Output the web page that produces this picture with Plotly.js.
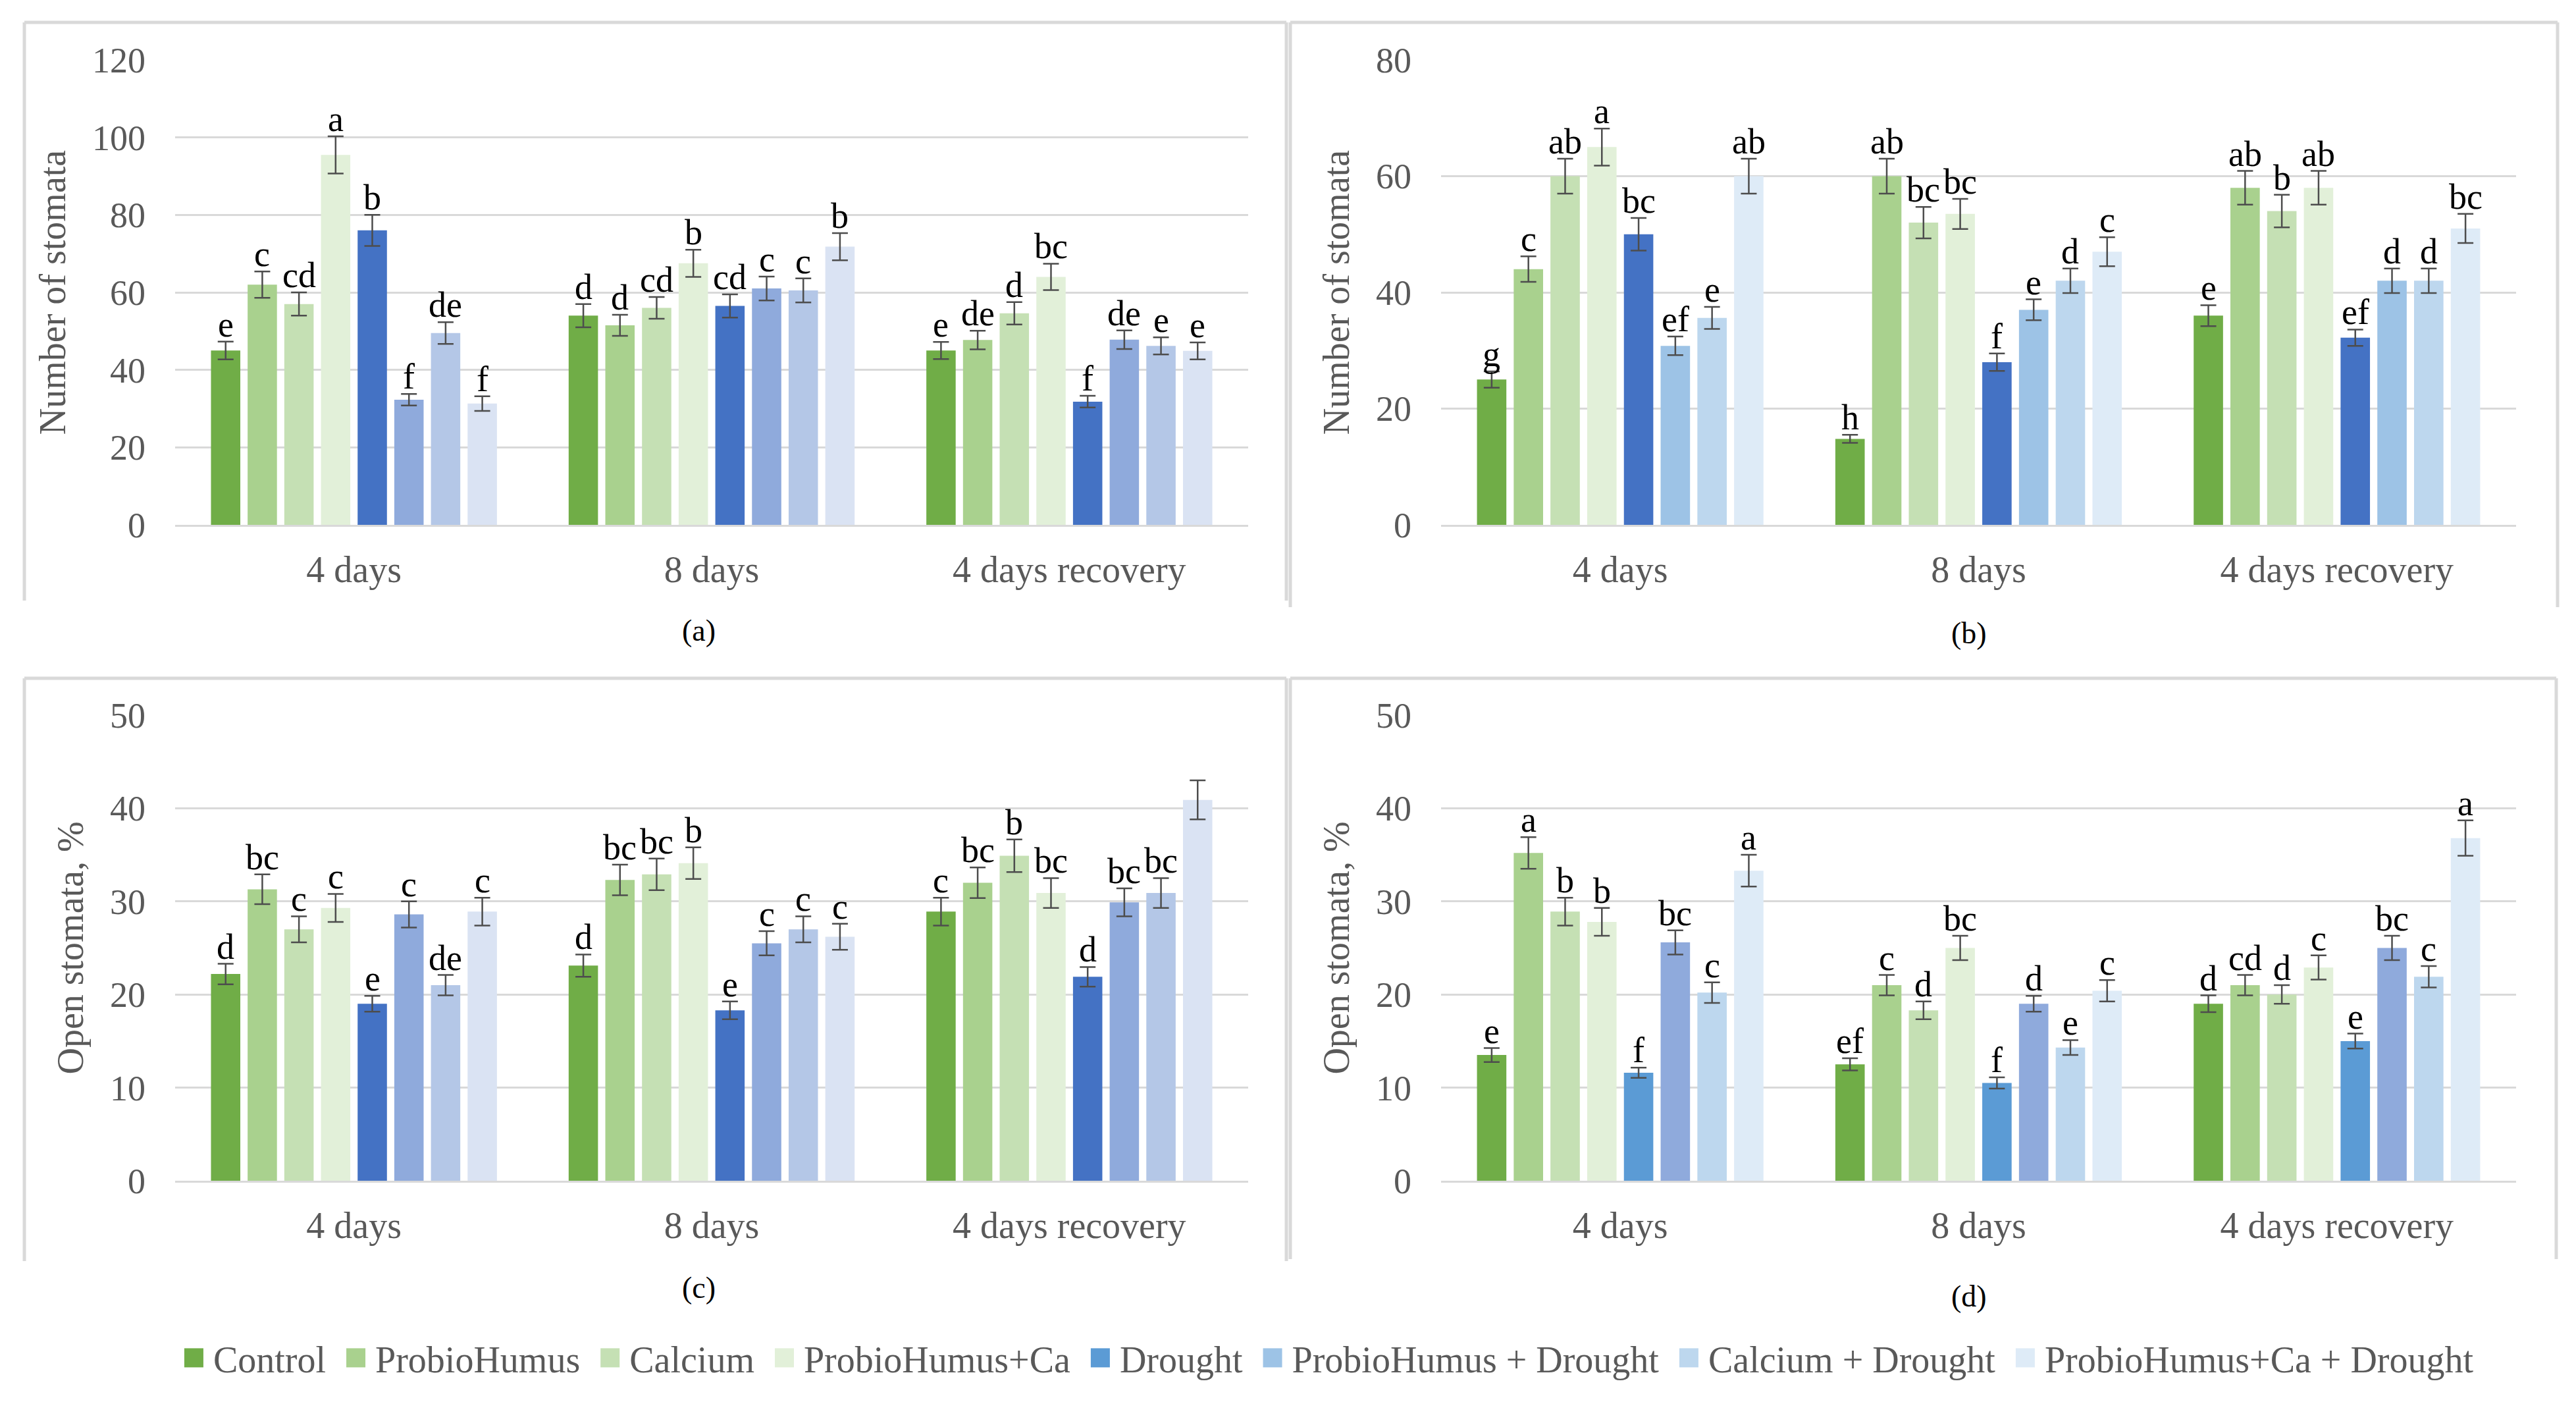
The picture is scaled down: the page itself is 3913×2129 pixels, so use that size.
<!DOCTYPE html>
<html>
<head>
<meta charset="utf-8">
<script src="https://cdn.plot.ly/plotly-3.0.1.min.js"></script>
<style>
html,body{margin:0;padding:0;background:#fff;}
#chart{width:3913px;height:2129px;}
</style>
</head>
<body>
<div id="chart"></div>
<script>
// ---------------- DATA ----------------
const categories = ['4 days', '8 days', '4 days recovery'];
const seriesNames = ['Control', 'ProbioHumus', 'Calcium', 'ProbioHumus+Ca', 'Drought',
  'ProbioHumus + Drought', 'Calcium + Drought', 'ProbioHumus+Ca + Drought'];

// (a) Number of stomata (rows = series, columns = categories)
const valuesA = [
  [45, 54, 45], [62, 51.5, 47.7], [57, 56, 54.6], [95.5, 67.5, 64],
  [76, 56.5, 31.8], [32.3, 61, 47.8], [49.5, 60.5, 46.2], [31.3, 71.8, 44.9]
];
const errorsA = [
  [2.3, 3, 2.2], [3.4, 2.7, 2.4], [3, 2.8, 2.9], [4.8, 3.5, 3.4],
  [4, 3, 1.5], [1.5, 3.1, 2.4], [2.8, 3.1, 2.2], [1.9, 3.5, 2.2]
];
const lettersA = [
  ['e', 'd', 'e'], ['c', 'd', 'de'], ['cd', 'cd', 'd'], ['a', 'b', 'bc'],
  ['b', 'cd', 'f'], ['f', 'c', 'de'], ['de', 'c', 'e'], ['f', 'b', 'e']
];

// (b) Number of stomata
const valuesB = [
  [25, 14.8, 36], [44, 60, 58], [60, 52, 54], [65, 53.5, 58],
  [50, 28, 32.2], [30.8, 37, 42], [35.6, 42, 42], [60, 47, 51]
];
const errorsB = [
  [1.4, 0.7, 1.8], [2.2, 3, 2.9], [3, 2.7, 2.8], [3.2, 2.6, 2.9],
  [2.8, 1.5, 1.4], [1.6, 1.8, 2.1], [1.9, 2.1, 2.1], [3, 2.5, 2.5]
];
const lettersB = [
  ['g', 'h', 'e'], ['c', 'ab', 'ab'], ['ab', 'bc', 'b'], ['a', 'bc', 'ab'],
  ['bc', 'f', 'ef'], ['ef', 'e', 'd'], ['e', 'd', 'd'], ['ab', 'c', 'bc']
];

// (c) Open stomata, %
const valuesC = [
  [22.2, 23.1, 28.9], [31.3, 32.3, 32], [27, 32.9, 34.9], [29.3, 34.1, 30.9],
  [19, 18.3, 21.9], [28.6, 25.5, 29.9], [21, 27, 30.9], [28.9, 26.2, 40.9]
];
const errorsC = [
  [1.1, 1.2, 1.5], [1.6, 1.65, 1.65], [1.4, 1.7, 1.75], [1.5, 1.7, 1.6],
  [0.85, 0.95, 1.05], [1.4, 1.3, 1.5], [1.1, 1.4, 1.6], [1.5, 1.4, 2.1]
];
const lettersC = [
  ['d', 'd', 'c'], ['bc', 'bc', 'bc'], ['c', 'bc', 'b'], ['c', 'b', 'bc'],
  ['e', 'e', 'd'], ['c', 'c', 'bc'], ['de', 'c', 'bc'], ['c', 'c', '']
];

// (d) Open stomata, %
const valuesD = [
  [13.5, 12.5, 19], [35.2, 21, 21], [28.9, 18.3, 20], [27.8, 25, 22.9],
  [11.6, 10.5, 15], [25.6, 19, 25], [20.2, 14.3, 21.9], [33.3, 20.4, 36.8]
];
const errorsD = [
  [0.75, 0.65, 0.9], [1.7, 1.1, 1.1], [1.5, 0.95, 1], [1.5, 1.3, 1.3],
  [0.55, 0.6, 0.8], [1.3, 0.85, 1.3], [1.1, 0.8, 1.15], [1.7, 1.15, 1.9]
];
const lettersD = [
  ['e', 'ef', 'd'], ['a', 'c', 'cd'], ['b', 'd', 'd'], ['b', 'bc', 'c'],
  ['f', 'f', 'e'], ['bc', 'd', 'bc'], ['c', 'e', 'c'], ['a', 'c', 'a']
];

const panelTags = ['(a)', '(b)', '(c)', '(d)'];
const yTitles = ['Number of stomata', 'Number of stomata', 'Open stomata, %', 'Open stomata, %'];
const yMax = [120, 80, 50, 50];
const yStep = [20, 20, 10, 10];

// ---------------- STYLE ----------------
const greens = ['#70AD47', '#A9D18E', '#C5E0B4', '#E2F0D9'];
const colorsA = greens.concat(['#4472C4', '#8FAADC', '#B4C7E7', '#DAE3F3']);
const colorsB = greens.concat(['#4472C4', '#9DC3E6', '#BDD7EE', '#DEEBF7']);
const colorsC = colorsA;
const colorsD = greens.concat(['#5B9BD5', '#8FAADC', '#BDD7EE', '#DEEBF7']);
// which panel supplies each legend entry (legend colours match these)
const legendPanel = [0, 0, 0, 0, 3, 1, 1, 1];

const FONT = '"Liberation Serif", "Times New Roman", serif';
const GREY = '#595959';
const LINE = '#D9D9D9';
const W = 3913, H = 2129;
const BARGAP = 0.18, BARGROUPGAP = 0.2;

const panels = [
  {v: valuesA, e: errorsA, l: lettersA, c: colorsA},
  {v: valuesB, e: errorsB, l: lettersB, c: colorsB},
  {v: valuesC, e: errorsC, l: lettersC, c: colorsC},
  {v: valuesD, e: errorsD, l: lettersD, c: colorsD}
];

// pixel layout of the plot areas
const plotX = [[266, 1896], [2189, 3822], [266, 1896], [2189, 3822]];
const plotY = [[91, 797], [91, 797], [1086, 1793], [1086, 1793]];
const tagPos = [[1061, 958], [2991, 961], [1061, 1955], [2991, 1968]];
const boxes = [[37, 34, 1954, 912], [1960, 34, 3885, 922], [37, 1030, 1954, 1915], [1960, 1030, 3883, 1912]];
// legend row (Excel style): swatch, gap, text, gap
const LEG = {left: 263, right: 3774, swatch: 29, textGap: 15, itemGap: 31};

const traces = [];
const annotations = [];
const shapes = [];
const layout = {
  width: W, height: H,
  margin: {l: 0, r: 0, t: 0, b: 0},
  paper_bgcolor: '#ffffff', plot_bgcolor: '#ffffff',
  barmode: 'group', bargap: BARGAP, bargroupgap: BARGROUPGAP,
  font: {family: FONT, color: GREY},
  showlegend: true,
  legend: {
    orientation: 'h', x: 0.5165, xanchor: 'center', y: 1 - 2062 / H, yanchor: 'middle',
    font: {family: FONT, size: 56, color: GREY}, traceorder: 'normal',
    bgcolor: 'rgba(0,0,0,0)', itemclick: false, itemdoubleclick: false
  },
  annotations: annotations,
  shapes: shapes
};

panels.forEach((p, pi) => {
  const xs = pi === 0 ? 'x' : 'x' + (pi + 1);
  const ys = pi === 0 ? 'y' : 'y' + (pi + 1);
  const xk = pi === 0 ? 'xaxis' : 'xaxis' + (pi + 1);
  const yk = pi === 0 ? 'yaxis' : 'yaxis' + (pi + 1);

  layout[xk] = {
    domain: [plotX[pi][0] / W, plotX[pi][1] / W], anchor: ys, type: 'category',
    categoryorder: 'array', categoryarray: categories,
    showgrid: false, zeroline: false, showline: true, linecolor: LINE, linewidth: 3,
    ticks: '', ticklabelstandoff: 17,
    tickfont: {family: FONT, size: 56, color: GREY}, fixedrange: true, automargin: false
  };
  layout[yk] = {
    domain: [1 - plotY[pi][1] / H, 1 - plotY[pi][0] / H], anchor: xs,
    range: [0, yMax[pi]], dtick: yStep[pi], tick0: 0,
    showgrid: true, gridcolor: LINE, gridwidth: 3, zeroline: false, showline: false,
    ticks: '', ticklabelstandoff: 44,
    tickfont: {family: FONT, size: 54, color: GREY},
    title: {text: yTitles[pi], font: {family: FONT, size: 56, color: GREY}, standoff: 22},
    fixedrange: true, automargin: false
  };

  seriesNames.forEach((name, si) => {
    traces.push({
      type: 'bar', name: name, x: categories, y: p.v[si], xaxis: xs, yaxis: ys,
      marker: {color: p.c[si], line: {width: 0}},
      error_y: {type: 'data', array: p.e[si], visible: true, color: '#4d4d4d', thickness: 2.5, width: 12},
      showlegend: legendPanel[si] === pi, legendrank: si + 1,
      hoverinfo: 'skip'
    });
    // significance letters above the error bars
    categories.forEach((cat, ci) => {
      const txt = p.l[si][ci];
      if (!txt) return;
      const slot = (1 - BARGAP) / seriesNames.length;
      annotations.push({
        xref: xs, yref: ys,
        x: ci + (si - (seriesNames.length - 1) / 2) * slot,
        y: p.v[si][ci] + p.e[si][ci],
        text: txt, showarrow: false, xanchor: 'center', yanchor: 'bottom', yshift: -6,
        font: {family: FONT, size: 54, color: '#000000'}
      });
    });
  });

  // panel tag
  annotations.push({
    xref: 'paper', yref: 'paper', x: tagPos[pi][0] / W, y: 1 - tagPos[pi][1] / H,
    text: panelTags[pi], showarrow: false, xanchor: 'center', yanchor: 'middle',
    font: {family: FONT, size: 46, color: '#000000'}
  });

  // panel frame (top, left, right)
  const b = boxes[pi];
  const L = {color: LINE, width: 5};
  shapes.push({type: 'line', xref: 'paper', yref: 'paper', x0: b[0] / W, x1: b[2] / W, y0: 1 - b[1] / H, y1: 1 - b[1] / H, line: L, layer: 'below'});
  shapes.push({type: 'line', xref: 'paper', yref: 'paper', x0: b[0] / W, x1: b[0] / W, y0: 1 - b[1] / H, y1: 1 - b[3] / H, line: L, layer: 'below'});
  shapes.push({type: 'line', xref: 'paper', yref: 'paper', x0: b[2] / W, x1: b[2] / W, y0: 1 - b[1] / H, y1: 1 - b[3] / H, line: L, layer: 'below'});
});

Plotly.newPlot('chart', traces, layout, {staticPlot: true, displayModeBar: false}).then(gd => {
  // Re-space the legend entries the way the Excel legend does
  const legend = gd.querySelector('.legend');
  if (!legend) return;
  legend.querySelectorAll('[clip-path]').forEach(el => el.removeAttribute('clip-path'));
  legend.removeAttribute('clip-path');
  const items = Array.from(legend.querySelectorAll('.traces'));
  if (!items.length) return;
  const textX = LEG.swatch + LEG.textGap;
  const widths = items.map(it => {
    const t = it.querySelector('text.legendtext');
    return t ? t.getComputedTextLength() : 0;
  });
  const total = widths.reduce((s, w) => s + textX + w, 0) + LEG.itemGap * (items.length - 1);
  const parent = items[0].parentNode;
  const ctm = parent.getCTM();
  const parentX = ctm ? ctm.e : 0;
  let cursor = (LEG.left + LEG.right) / 2 - total / 2 - parentX;
  items.forEach((it, i) => {
    const tr = it.getAttribute('transform') || '';
    const m = tr.match(/translate\(\s*([-\d.e]+)[ ,]+([-\d.e]+)\s*\)/);
    const yv = m ? parseFloat(m[2]) : 0;
    it.setAttribute('transform', 'translate(' + cursor + ',' + yv + ')');
    const t = it.querySelector('text.legendtext');
    if (t) t.setAttribute('x', textX);
    it.querySelectorAll('.legendpoints path').forEach(pth => {
      pth.setAttribute('transform', 'translate(' + (LEG.swatch / 2) + ',0) scale(' + (LEG.swatch / 12) + ')');
    });
    cursor += textX + widths[i] + LEG.itemGap;
  });
});
</script>
</body>
</html>
